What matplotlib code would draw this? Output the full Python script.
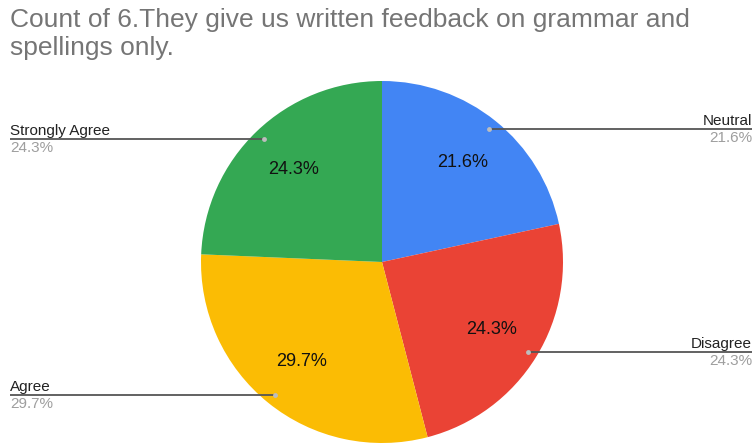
import matplotlib
matplotlib.use("Agg")
import matplotlib.pyplot as plt
import numpy as np

title = "Count of 6.They give us written feedback on grammar and\nspellings only."
categories = ["Neutral", "Disagree", "Agree", "Strongly Agree"]
counts = [8, 9, 11, 9]
colors = ["#4285F4", "#EA4335", "#FBBC04", "#34A853"]

W, H = 756, 446
fig = plt.figure(figsize=(W / 100, H / 100), dpi=100)
ax = fig.add_axes([0, 0, 1, 1])

font = "Liberation Sans"
cx, cy, r = 382, H - 262, 181

total = sum(counts)
pcts = [c / total * 100 for c in counts]

wedges, _ = ax.pie(counts, colors=colors, startangle=90, counterclock=False,
                   center=(cx, cy), radius=r, frame=True,
                   wedgeprops=dict(linewidth=0))
ax.set_xlim(0, W)
ax.set_ylim(0, H)
ax.set_aspect("equal")
ax.axis("off")

for w, p, name in zip(wedges, pcts, categories):
    mid = np.deg2rad((w.theta1 + w.theta2) / 2)
    # percentage inside the slice
    ax.text(cx + 0.71 * r * np.cos(mid), cy + 0.71 * r * np.sin(mid),
            f"{p:.1f}%", ha="center", va="center", fontsize=13,
            color="#111111", family=font)
    # leader line to the outside label
    dx, dy = cx + 0.945 * r * np.cos(mid), cy + 0.945 * r * np.sin(mid)
    right = np.cos(mid) > 0
    xe = 752 if right else 10
    ax.plot([dx, xe], [dy, dy], color="#555555", lw=1.3, solid_capstyle="butt")
    ax.plot([dx], [dy], "o", color="#bdbdbd", ms=3.5, mec="none")
    ha = "right" if right else "left"
    ax.text(xe, dy + 4, name, ha=ha, va="baseline", fontsize=11,
            color="#222222", family=font)
    ax.text(xe, dy - 2, f"{p:.1f}%", ha=ha, va="top", fontsize=11,
            color="#9e9e9e", family=font)

fig.text(10 / W, 1 - 8 / H, title, ha="left", va="top", fontsize=19,
         color="#757575", family=font, linespacing=1.2)

fig.savefig("out.png", dpi=100, facecolor="white")
